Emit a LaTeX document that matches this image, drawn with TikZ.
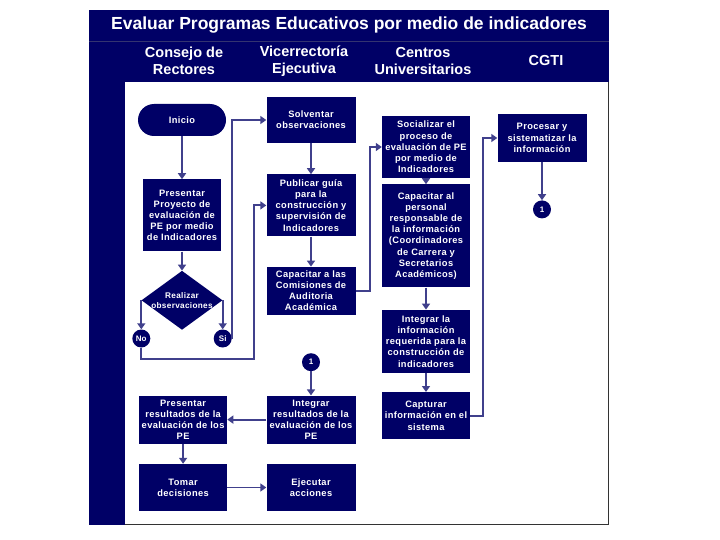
\documentclass[tikz,border=0pt]{standalone}
\usepackage{fontspec}
\setmainfont{Liberation Sans}
\newfontfamily\boxfont[LetterSpace=4]{Liberation Sans}
\usetikzlibrary{arrows.meta, positioning, shapes.geometric}
\definecolor{navy}{RGB}{0,0,102}
\definecolor{flow}{RGB}{64,64,140}

\begin{document}
\begin{tikzpicture}[x=1pt, y=-1pt,
  box/.style={fill=navy, text=white, align=center, font=\boxfont\bfseries\fontsize{9.3}{11.2}\selectfont, inner sep=1pt, minimum width=89pt},
  dtext/.style={text=white, align=center, font=\boxfont\bfseries\fontsize{8.2}{10}\selectfont},
  dot/.style={circle, fill=navy, text=white, font=\bfseries\fontsize{8}{9}\selectfont, inner sep=0pt, minimum size=18pt},
  head/.style={text=white, align=center, font=\bfseries\fontsize{14.5}{16.5}\selectfont},
  arr/.style={draw=flow, line width=1.8pt, -{Triangle[length=6pt, width=8pt]}}
]
\useasboundingbox (0,0) rectangle (720,540);
\fill[navy] (89,10) rectangle (609,525);
\fill[white] (125,82) rectangle (608,524);
\draw[navy!60!gray, line width=0.8pt] (89,41) -- (609,41);
\draw[black!80, line width=1pt] (125,524.5) -- (608.5,524.5) -- (608.5,82);

\node[head, font=\bfseries\fontsize{17.5}{20}\selectfont] (title) at (349,25) {Evaluar Programas Educativos por medio de indicadores};
\node[head] (consejo) at (184,61) {Consejo de\\Rectores};
\node[head] (vicerrectoria) at (304,61) {Vicerrectoría\\Ejecutiva};
\node[head] (centros) at (423,61) {Centros\\Universitarios};
\node[head] (cgti) at (546,61) {CGTI};

\node[box, minimum width=88pt, minimum height=32pt, rounded corners=16pt] (inicio) at (182,120) {Inicio};
\node[box, below=43pt of inicio, minimum width=78pt, minimum height=72pt] (proyecto) {Presentar\\Proyecto de\\evaluación de\\PE por medio\\de Indicadores};
\node[diamond, fill=navy, minimum width=81pt, minimum height=59pt, below=19pt of proyecto, label={[dtext]center:{Realizar\\observaciones}}] (decision) {};
\node[dot, below=29pt of decision.west] (no) {No};
\node[dot, below=29pt of decision.east] (si) {Si};

\node[box, minimum height=46pt] (solventar) at (311,120) {Solventar\\observaciones};
\node[box, below=31pt of solventar, minimum height=62pt] (publicar) {Publicar guía\\para la\\construcción y\\supervisión de\\Indicadores};
\node[box, below=30pt of publicar, minimum height=48pt] (comisiones) {Capacitar a las\\Comisiones de\\Auditoria\\Académica};
\node[dot, below=38pt of comisiones] (uno2) {1};
\node[box, below=24pt of uno2, minimum height=48pt] (intres) {Integrar\\resultados de la\\evaluación de los\\PE};
\node[box, left=39pt of intres, minimum width=88pt, minimum height=48pt] (presres) {Presentar\\resultados de la\\evaluación de los\\PE};
\node[box, below=20pt of presres, minimum width=88pt, minimum height=47pt] (tomar) {Tomar\\decisiones};
\node[box, right=39pt of tomar, minimum height=47pt] (ejecutar) {Ejecutar\\acciones};

\node[box, minimum width=88pt, minimum height=62pt] (socializar) at (426,147) {Socializar el\\proceso de\\evaluación de PE\\por medio de\\Indicadores};
\node[box, below=6pt of socializar, minimum width=88pt, minimum height=103pt] (personal) {Capacitar al\\personal\\responsable de\\la información\\(Coordinadores\\de Carrera y\\Secretarios\\Académicos)};
\node[box, below=22pt of personal, minimum width=88pt, minimum height=63pt] (integrar) {Integrar la\\información\\requerida para la\\construcción de\\indicadores};
\node[box, below=19pt of integrar, minimum width=88pt, minimum height=47pt] (capturar) {Capturar\\información en el\\sistema};

\node[box, minimum height=48pt] (procesar) at (542,138) {Procesar y\\sistematizar la\\información};
\node[dot, below=38pt of procesar] (uno1) {1};

\coordinate (noturn) at (254,359);
\coordinate[right=14pt of comisiones.east] (comturn);
\coordinate[right=13pt of capturar.east] (capturn);

\draw[arr] (inicio) -- (proyecto);
\draw[arr] (proyecto) -- (decision);
\draw[arr] (decision.west) -- (no);
\draw[arr] (decision.east) -- (si);
\draw[arr] (no) |- (noturn) |- (publicar);
\draw[arr] (si.east) |- (solventar);
\draw[arr] (solventar) -- (publicar);
\draw[arr] (publicar) -- (comisiones);
\draw[arr] (comisiones) -- (comturn) |- (socializar);
\draw[arr] (socializar) -- (personal);
\draw[arr] (personal) -- (integrar);
\draw[arr] (integrar) -- (capturar);
\draw[arr] (capturar) -- (capturn) |- (procesar);
\draw[arr] (procesar) -- (uno1);
\draw[arr] (uno2) -- (intres);
\draw[arr] (intres) -- (presres);
\draw[arr] (presres) -- (tomar);
\draw[arr] (tomar) -- (ejecutar);
\end{tikzpicture}
\end{document}
